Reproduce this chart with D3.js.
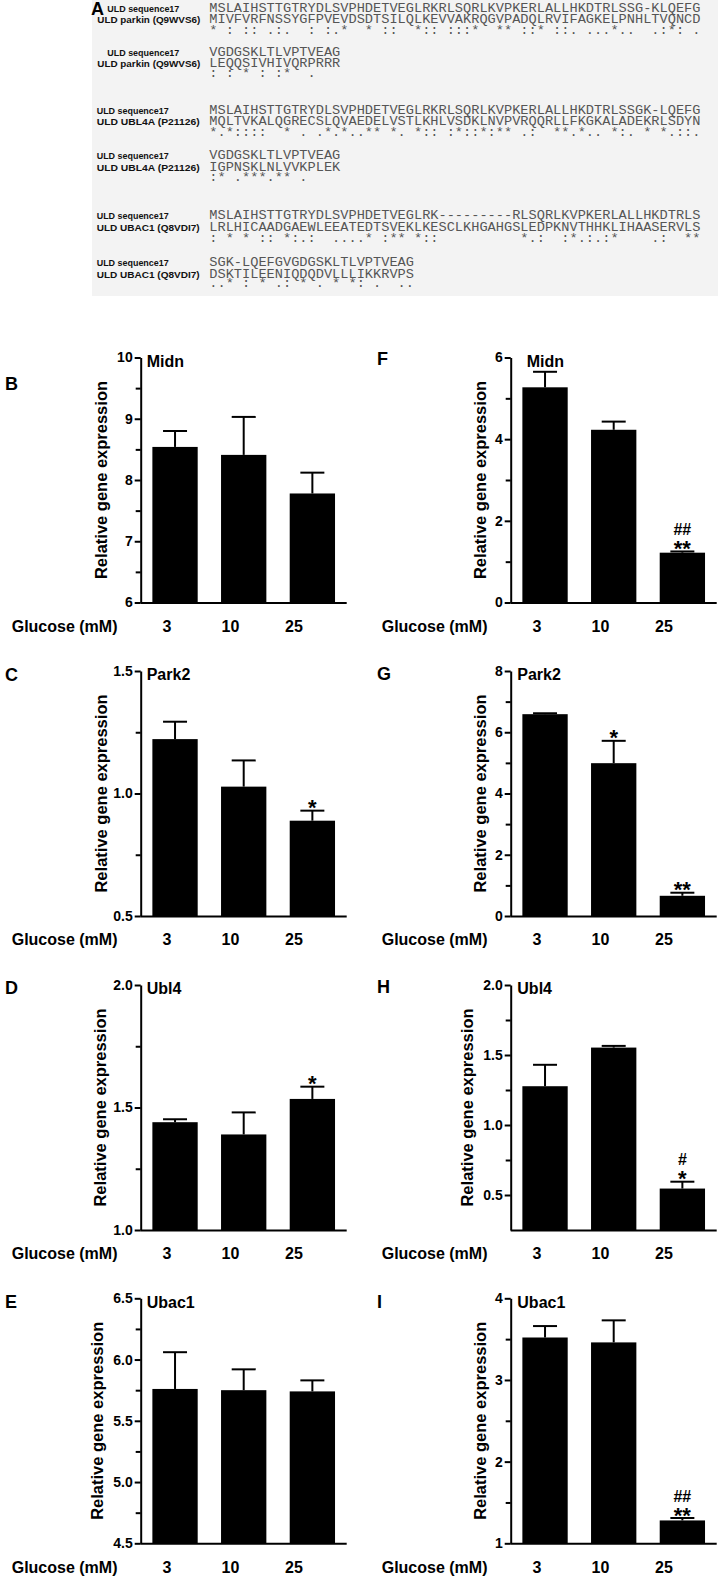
<!DOCTYPE html>
<html><head><meta charset="utf-8">
<script src="https://cdn.jsdelivr.net/npm/d3@7"></script>
<style>body{margin:0;background:#fff}</style>
</head><body>
<svg id="fig" width="718" height="1578"></svg>
<script>
// ---------------- DATA ----------------
const categories = ["3", "10", "25"];
const xAxisLabel = "Glucose (mM)";
const yAxisTitle = "Relative gene expression";

const alignQuery = "ULD sequence17";
const alignTargets = ["ULD parkin  (Q9WVS6)", "ULD UBL4A (P21126)", "ULD UBAC1 (Q8VDI7)"];
const alignQuerySeqs = [
  "MSLAIHSTTGTRYDLSVPHDETVEGLRKRLSQRLKVPKERLALLHKDTRLSSG-KLQEFG",
  "VGDGSKLTLVPTVEAG",
  "MSLAIHSTTGTRYDLSVPHDETVEGLRKRLSQRLKVPKERLALLHKDTRLSSGK-LQEFG",
  "VGDGSKLTLVPTVEAG",
  "MSLAIHSTTGTRYDLSVPHDETVEGLRK---------RLSQRLKVPKERLALLHKDTRLS",
  "SGK-LQEFGVGDGSKLTLVPTVEAG"
];
const alignTargetSeqs = [
  "MIVFVRFNSSYGFPVEVDSDTSILQLKEVVAKRQGVPADQLRVIFAGKELPNHLTVQNCD",
  "LEQQSIVHIVQRPRRR",
  "MQLTVKALQGRECSLQVAEDELVSTLKHLVSDKLNVPVRQQRLLFKGKALADEKRLSDYN",
  "IGPNSKLNLVVKPLEK",
  "LRLHICAADGAEWLEEATEDTSVEKLKESCLKHGAHGSLEDPKNVTHHKLIHAASERVLS",
  "DSKTILEENIQDQDVLLLIKKRVPS"
];
const alignConsensus = [
  "* : :: .:.  : :.*  * ::  *:: :::*  ** ::* ::. ...*..  .:*: .",
  ": : * : :*  .",
  "*.*::::  * . .*.*..** *. *:: :*::*:** .:  **.*.. *:. * *.::.",
  ":* .***.** .",
  ": * * :: *:.:  ....* :** *::          *.:  :*.:.:*    .:  **",
  "..* : * .: * . * *: .  .."
];

const genes = ["Midn", "Park2", "Ubl4", "Ubac1"];
const panelLetters = ["B", "C", "D", "E", "F", "G", "H", "I"];

// left column (B-E)
const midnL_mean = [8.54, 8.41, 7.78],   midnL_err = [8.80, 9.03, 8.12];
const park2L_mean = [1.222, 1.028, 0.889], park2L_err = [1.293, 1.135, 0.930];
const ubl4L_mean = [1.44, 1.39, 1.535],  ubl4L_err = [1.452, 1.48, 1.585];
const ubac1L_mean = [5.76, 5.75, 5.74],  ubac1L_err = [6.06, 5.92, 5.83];
// right column (F-I)
const midnR_mean = [5.27, 4.23, 1.22],   midnR_err = [5.65, 4.43, 1.25];
const park2R_mean = [6.59, 4.99, 0.66],  park2R_err = [6.62, 5.72, 0.76];
const ubl4R_mean = [1.277, 1.553, 0.546], ubl4R_err = [1.43, 1.565, 0.595];
const ubac1R_mean = [3.52, 3.46, 1.28],  ubac1R_err = [3.66, 3.73, 1.31];

// significance marks
const park2L_star = ["", "", "*"];
const ubl4L_star  = ["", "", "*"];
const midnR_star  = ["", "", "**"], midnR_hash = ["", "", "##"];
const park2R_star = ["", "*", "**"];
const ubl4R_star  = ["", "", "*"],  ubl4R_hash = ["", "", "#"];
const ubac1R_star = ["", "", "**"], ubac1R_hash = ["", "", "##"];

// axis domains and ticks
const midnL_domain = [6, 10],    midnL_ticks = [6, 7, 8, 9, 10],          midnL_minor = [6.5, 7.5, 8.5, 9.5];
const park2L_domain = [0.5, 1.5], park2L_ticks = [0.5, 1.0, 1.5],         park2L_minor = [0.75, 1.25];
const ubl4L_domain = [1.0, 2.0], ubl4L_ticks = [1.0, 1.5, 2.0],           ubl4L_minor = [1.25, 1.75];
const ubac1L_domain = [4.5, 6.5], ubac1L_ticks = [4.5, 5.0, 5.5, 6.0, 6.5], ubac1L_minor = [4.75, 5.25, 5.75, 6.25];
const midnR_domain = [0, 6],     midnR_ticks = [0, 2, 4, 6],              midnR_minor = [1, 3, 5];
const park2R_domain = [0, 8],    park2R_ticks = [0, 2, 4, 6, 8],          park2R_minor = [1, 3, 5, 7];
const ubl4R_domain = [0.25, 2.0], ubl4R_ticks = [0.5, 1.0, 1.5, 2.0],     ubl4R_minor = [0.75, 1.25, 1.75];
const ubac1R_domain = [1, 4],    ubac1R_ticks = [1, 2, 3, 4],             ubac1R_minor = [1.5, 2.5, 3.5];

// ---------------- DRAWING ----------------
const SANS = "'Liberation Sans', Arial, Helvetica, sans-serif";
const svg = d3.select("#fig");
svg.append("rect").attr("width", 718).attr("height", 1578).attr("fill", "#fff");

// ----- Panel A: alignment -----
const gA = svg.append("g");
gA.append("rect").attr("x", 92).attr("y", 0).attr("width", 626).attr("height", 296).attr("fill", "#f3f3f3");
gA.append("text").attr("x", 91).attr("y", 14.5).text("A")
  .style("font-family", SANS).style("font-weight", "bold").style("font-size", "18px");

const seqX = 209.3;
const blockRows = [[12.3, 23, 33.5], [56, 67, 77], [114.3, 125.3, 135.5], [159.3, 171.3, 181], [219, 231, 242], [266, 277.7, 287]];
const queryLabelX = [107.3, 107.3, 96.7, 96.7, 96.7, 96.7];
const targetLabelX = [97.3, 97.3, 96.7, 96.7, 96.7, 96.7];
alignQuerySeqs.forEach((s, b) => {
  const ys = blockRows[b];
  const tgt = alignTargets[Math.floor(b / 2)];
  const lab = (txt, x, y, w) => gA.append("text").attr("x", x).attr("y", y).text(txt)
    .attr("textLength", w).attr("lengthAdjust", "spacingAndGlyphs")
    .style("font-family", SANS).style("font-weight", "bold").style("font-size", "9.6px").attr("fill", "#111");
  lab(alignQuery, queryLabelX[b], ys[0], 72);
  lab(tgt, targetLabelX[b], ys[1], 103);
  const seq = (txt, y) => gA.append("text").attr("x", seqX).attr("y", y).text(txt)
    .attr("xml:space", "preserve").style("white-space", "pre")
    .style("font-family", "'Liberation Mono', 'Courier New', monospace").style("font-size", "13.65px").attr("fill", "#555");
  seq(s, ys[0]);
  seq(alignTargetSeqs[b], ys[1]);
  seq(alignConsensus[b], ys[2]);
});

// ----- bar chart panels -----
const rowTops = [357.5, 671, 985, 1298.3];
const plotH = 245, plotW = 206;
const colX = [140.7, 510.7];

const panels = [
  {letter: panelLetters[0], gene: genes[0], col: 0, row: 0, mean: midnL_mean, err: midnL_err, domain: midnL_domain, ticks: midnL_ticks, minor: midnL_minor, fmt: "d", titleOff: -40, nameOff: 6, letterY: 390},
  {letter: panelLetters[1], gene: genes[1], col: 0, row: 1, mean: park2L_mean, err: park2L_err, domain: park2L_domain, ticks: park2L_ticks, minor: park2L_minor, fmt: ".1f", titleOff: -40, nameOff: 6, star: park2L_star, letterY: 680.7},
  {letter: panelLetters[2], gene: genes[2], col: 0, row: 2, mean: ubl4L_mean, err: ubl4L_err, domain: ubl4L_domain, ticks: ubl4L_ticks, minor: ubl4L_minor, fmt: ".1f", titleOff: -41, nameOff: 6, star: ubl4L_star, letterY: 994},
  {letter: panelLetters[3], gene: genes[3], col: 0, row: 3, mean: ubac1L_mean, err: ubac1L_err, domain: ubac1L_domain, ticks: ubac1L_ticks, minor: ubac1L_minor, fmt: ".1f", titleOff: -44, nameOff: 6, letterY: 1308.3},
  {letter: panelLetters[4], gene: genes[0], col: 1, row: 0, mean: midnR_mean, err: midnR_err, domain: midnR_domain, ticks: midnR_ticks, minor: midnR_minor, fmt: "d", titleOff: -31, nameOff: 16, star: midnR_star, hash: midnR_hash, letterY: 364.5},
  {letter: panelLetters[5], gene: genes[1], col: 1, row: 1, mean: park2R_mean, err: park2R_err, domain: park2R_domain, ticks: park2R_ticks, minor: park2R_minor, fmt: "d", titleOff: -31, nameOff: 6.6, star: park2R_star, letterY: 680.3},
  {letter: panelLetters[6], gene: genes[2], col: 1, row: 2, mean: ubl4R_mean, err: ubl4R_err, domain: ubl4R_domain, ticks: ubl4R_ticks, minor: ubl4R_minor, fmt: ".1f", titleOff: -44, nameOff: 6.6, star: ubl4R_star, hash: ubl4R_hash, letterY: 992.7},
  {letter: panelLetters[7], gene: genes[3], col: 1, row: 3, mean: ubac1R_mean, err: ubac1R_err, domain: ubac1R_domain, ticks: ubac1R_ticks, minor: ubac1R_minor, fmt: "d", titleOff: -31, nameOff: 6.6, star: ubac1R_star, hash: ubac1R_hash, letterY: 1308.3}
];

function drawPanel(p) {
  const g = svg.append("g");
  const x0 = colX[p.col];
  const top = rowTops[p.row], bottom = top + plotH;
  const y = d3.scaleLinear().domain(p.domain).range([bottom, top]);
  const x = d3.scaleBand().domain(categories).range([x0, x0 + plotW]).paddingInner(0.34).paddingOuter(0.17);
  const cx = i => x(categories[i]) + x.bandwidth() / 2;
  const capW = 24;

  // error bars (drawn first, bars cover the lower part)
  p.err.forEach((e, i) => {
    g.append("line").attr("x1", cx(i)).attr("x2", cx(i)).attr("y1", y(p.mean[i])).attr("y2", y(e))
      .attr("stroke", "#000").attr("stroke-width", 2);
    g.append("line").attr("x1", cx(i) - capW / 2).attr("x2", cx(i) + capW / 2).attr("y1", y(e)).attr("y2", y(e))
      .attr("stroke", "#000").attr("stroke-width", 2);
  });
  // bars
  g.selectAll("rect.bar").data(p.mean).join("rect").attr("class", "bar")
    .attr("x", (d, i) => x(categories[i])).attr("width", x.bandwidth())
    .attr("y", d => y(d)).attr("height", d => bottom - y(d)).attr("fill", "#000");

  // y axis
  const ax = d3.axisLeft(y).tickValues(p.ticks).tickSize(6).tickSizeOuter(0).tickPadding(2)
    .tickFormat(d3.format(p.fmt));
  const gy = g.append("g").attr("transform", `translate(${x0},0)`).call(ax);
  gy.select(".domain").attr("stroke", "#000").attr("stroke-width", 2);
  gy.selectAll(".tick line").attr("stroke", "#000").attr("stroke-width", 2);
  gy.selectAll(".tick text").attr("fill", "#000")
    .style("font-family", SANS).style("font-weight", "bold").style("font-size", "14px");
  const gm = g.append("g").attr("transform", `translate(${x0},0)`)
    .call(d3.axisLeft(y).tickValues(p.minor).tickSize(5).tickFormat(""));
  gm.select(".domain").remove();
  gm.selectAll(".tick line").attr("stroke", "#000").attr("stroke-width", 2);

  // x axis line
  g.append("line").attr("x1", x0).attr("x2", x0 + plotW).attr("y1", bottom + 0.5).attr("y2", bottom + 0.5)
    .attr("stroke", "#000").attr("stroke-width", 2);

  const bold = sel => sel.style("font-family", SANS).style("font-weight", "bold").attr("fill", "#000");

  // y title
  bold(g.append("text").attr("transform", `translate(${x0 + p.titleOff},${(top + bottom) / 2}) rotate(-90)`)
    .attr("text-anchor", "middle").attr("dominant-baseline", "central").text(yAxisTitle)).style("font-size", "16.5px");

  // gene name
  bold(g.append("text").attr("x", x0 + p.nameOff).attr("y", top + 9.4).text(p.gene)).style("font-size", "16px");

  // category labels
  const xl = d3.scalePoint().domain(categories).range([x0 + 26.3, x0 + 153.3]);
  categories.forEach(c => {
    bold(g.append("text").attr("x", xl(c)).attr("y", bottom + 29.4).attr("text-anchor", "middle").text(c)).style("font-size", "16px");
  });
  bold(g.append("text").attr("x", x0 - 129).attr("y", bottom + 29.4).text(xAxisLabel)).style("font-size", "16px");

  // significance marks
  if (p.star) p.star.forEach((s, i) => {
    if (!s) return;
    bold(g.append("text").attr("x", cx(i)).attr("y", y(p.err[i]) + 4.6).attr("text-anchor", "middle").text(s)).style("font-size", "22px");
  });
  if (p.hash) p.hash.forEach((s, i) => {
    if (!s) return;
    bold(g.append("text").attr("x", cx(i)).attr("y", y(p.err[i]) - 16.4).attr("text-anchor", "middle").text(s)).style("font-size", "16px");
  });

  // panel letter
  bold(svg.append("text").attr("x", p.col === 0 ? 5 : 377).attr("y", p.letterY).text(p.letter)).style("font-size", "18px");
}
panels.forEach(drawPanel);
</script>
</body></html>
